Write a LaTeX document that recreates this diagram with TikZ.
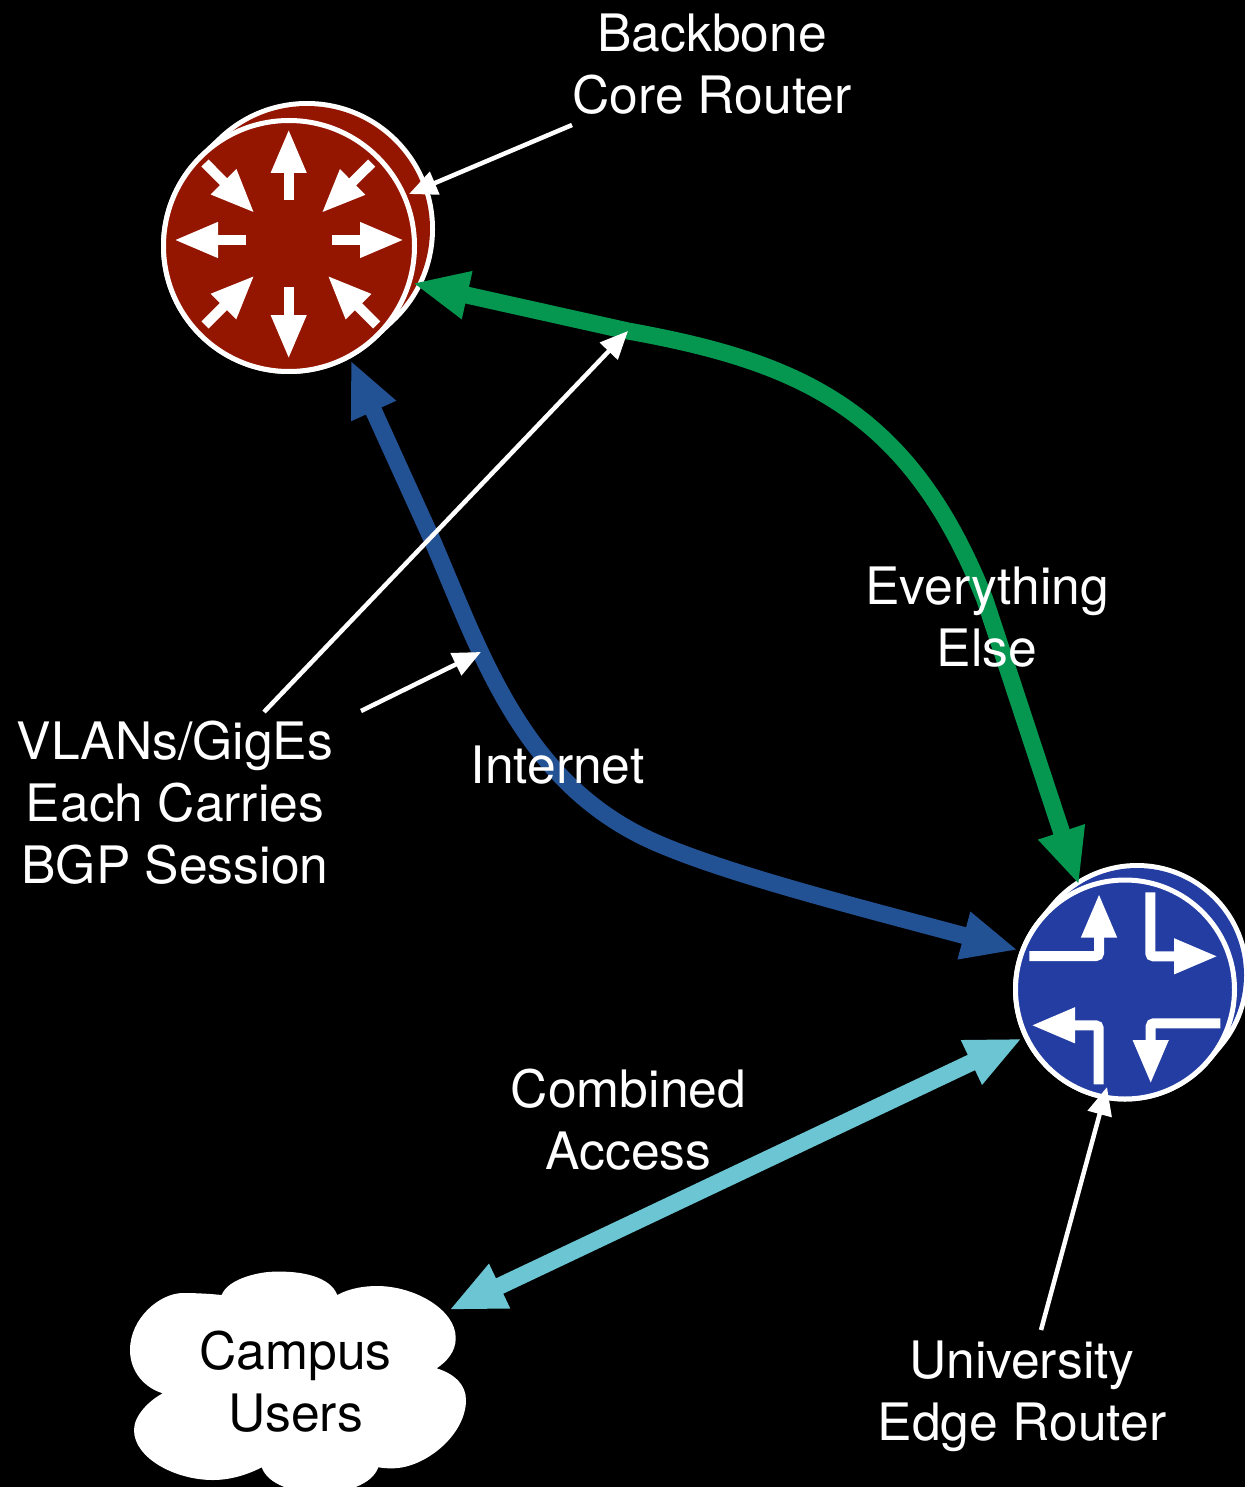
\documentclass[tikz,border=0pt]{standalone}
\usepackage{fontspec}
\setmainfont{TeX Gyre Heros}
\usetikzlibrary{arrows.meta}
\definecolor{corered}{HTML}{941500}
\definecolor{edgeblue}{HTML}{233DA3}
\definecolor{linkgreen}{HTML}{059650}
\definecolor{linkblue}{HTML}{235294}
\definecolor{linkcyan}{HTML}{6CC5D3}
\tikzstyle{label} = [text=white,align=center,inner sep=0,font=\fontsize{51.6}{62}\selectfont]
\tikzstyle{router} = [draw=white,circle,line width=5pt,inner sep=0]
\tikzstyle{link} = [line width=17pt,{Triangle[length=56pt,width=45pt]}-{Triangle[length=56pt,width=45pt]}]
\tikzstyle{pointer} = [white,line width=4.5pt,-{Triangle[length=28pt,width=24pt]}]
\tikzstyle{flow} = [white,line width=10pt,rounded corners=3pt,-{Triangle[length=44pt,width=33pt]}]
\begin{document}
\begin{tikzpicture}[x=1pt,y=-1pt]
      \fill[black] (0,0) rectangle (1245,1487);
      \useasboundingbox (0,0) rectangle (1245,1487);
      \clip (0,0) rectangle (1245,1487);
      % routers
      \coordinate (corefront) at (289,246);
      \coordinate (coreback) at (307,229);
      \coordinate (edgefront) at (1125,989.5);
      \coordinate (edgeback) at (1137,975);
      \draw[white,line width=256pt,line cap=round] (corefront) -- (coreback);
      \draw[corered,line width=246pt,line cap=round] (corefront) -- (coreback);
      \draw[white,line width=224pt,line cap=round] (edgefront) -- (edgeback);
      \draw[edgeblue,line width=214pt,line cap=round] (edgefront) -- (edgeback);
      \node[router,fill=corered,minimum size=251pt] (core) at (corefront) {};
      \node[router,fill=edgeblue,minimum size=219pt] (edge) at (edgefront) {};
      \foreach \fx/\fy/\tx/\ty in {288.7/200.5/288.7/129, 288.7/287.5/288.7/359, 246/240/174/240, 332/240/404/240,
          205/163/254.5/213, 371.7/163/321.5/213, 205/325/254.5/275.5, 376.7/325/327.5/275.5} {
        \draw[flow] (\fx,\fy) -- (\tx,\ty);
      }
      \draw[flow] (1029.3,956) -- (1099,956) -- (1099,893.5);
      \draw[flow] (1150.3,892.3) -- (1150.3,956.3) -- (1218,956.3);
      \draw[flow] (1098.7,1084.3) -- (1098.7,1025.3) -- (1031,1025.3);
      \draw[flow] (1220.3,1023.3) -- (1150.7,1023.3) -- (1150.7,1084);
      % cloud
      \fill[white] (221.7,1295) .. controls (228,1278) and (262,1271) .. (277,1271.7)
        .. controls (300,1271) and (330,1276) .. (337.3,1295)
        .. controls (350,1288) and (365,1286) .. (377,1286)
        .. controls (415,1286) and (456,1310) .. (455.7,1338)
        .. controls (456,1352) and (446,1362) .. (436.7,1368.3)
        .. controls (455,1374) and (466,1385) .. (466,1400)
        .. controls (466,1435) and (425,1468) .. (393,1468.3)
        .. controls (388,1468.5) and (383,1468) .. (378.3,1467.3)
        .. controls (372,1485) and (345,1493) .. (320,1493)
        .. controls (295,1493) and (268,1485) .. (261.7,1467.3)
        .. controls (245,1476) and (228,1480) .. (213,1480)
        .. controls (175,1480) and (134,1458) .. (134,1430)
        .. controls (134,1415) and (150,1400) .. (162.7,1393.3)
        .. controls (145,1388) and (130,1372) .. (130,1350)
        .. controls (130,1318) and (160,1293) .. (183,1293)
        .. controls (198,1293) and (212,1294) .. (221.7,1295) -- cycle;
      \node[label,text=black] (campus) at (295.5,1381.5) {Campus\\Users};
      % links
      \coordinate (corenear) at (628,331);
      \coordinate (coregreen) at (412.5,283);
      \coordinate (edgegreen) at (1079,885);
      \coordinate (coreblue) at (350.5,360);
      \coordinate (edgeblueend) at (1018,950);
      \coordinate (edgecyan) at (1022,1038.5);
      \coordinate (cloudcyan) at (449,1310);
      \draw[link,linkgreen] (coregreen) -- (corenear) .. controls (800,362) and (910,410) .. (985,600) -- (edgegreen);
      \draw[link,linkblue] (coreblue) -- (430,535) .. controls (480,650) and (520,780) .. (650,840) .. controls (720,872) and (850,905) .. (edgeblueend);
      \draw[link,linkcyan] (edgecyan) -- (cloudcyan);
      % labels
      \node[label] (backbone) at (712,64) {Backbone\\Core Router};
      \node[label] (vlans) at (175,803) {VLANs/GigEs\\Each Carries\\BGP Session};
      \node[label] (everything) at (987,617) {Everything\\Else};
      \node[label] (internet) at (557.5,765) {Internet};
      \node[label] (combined) at (628.5,1120) {Combined\\Access};
      \node[label] (university) at (1022,1396) {University\\Edge Router};
      % pointers
      \coordinate (backbonefoot) at (572,125);
      \coordinate (vlanlong) at (264,712);
      \coordinate (vlanshort) at (361,711);
      \coordinate (bluenear) at (481,652);
      \coordinate (unitop) at (1041,1330);
      \coordinate (edgetip) at (1107,1087);
      \coordinate (coretip) at (409,194);
      \draw[pointer] (backbonefoot) -- (coretip);
      \draw[pointer] (vlanlong) -- (corenear);
      \draw[pointer] (vlanshort) -- (bluenear);
      \draw[pointer] (unitop) -- (edgetip);
    \end{tikzpicture}
\end{document}
